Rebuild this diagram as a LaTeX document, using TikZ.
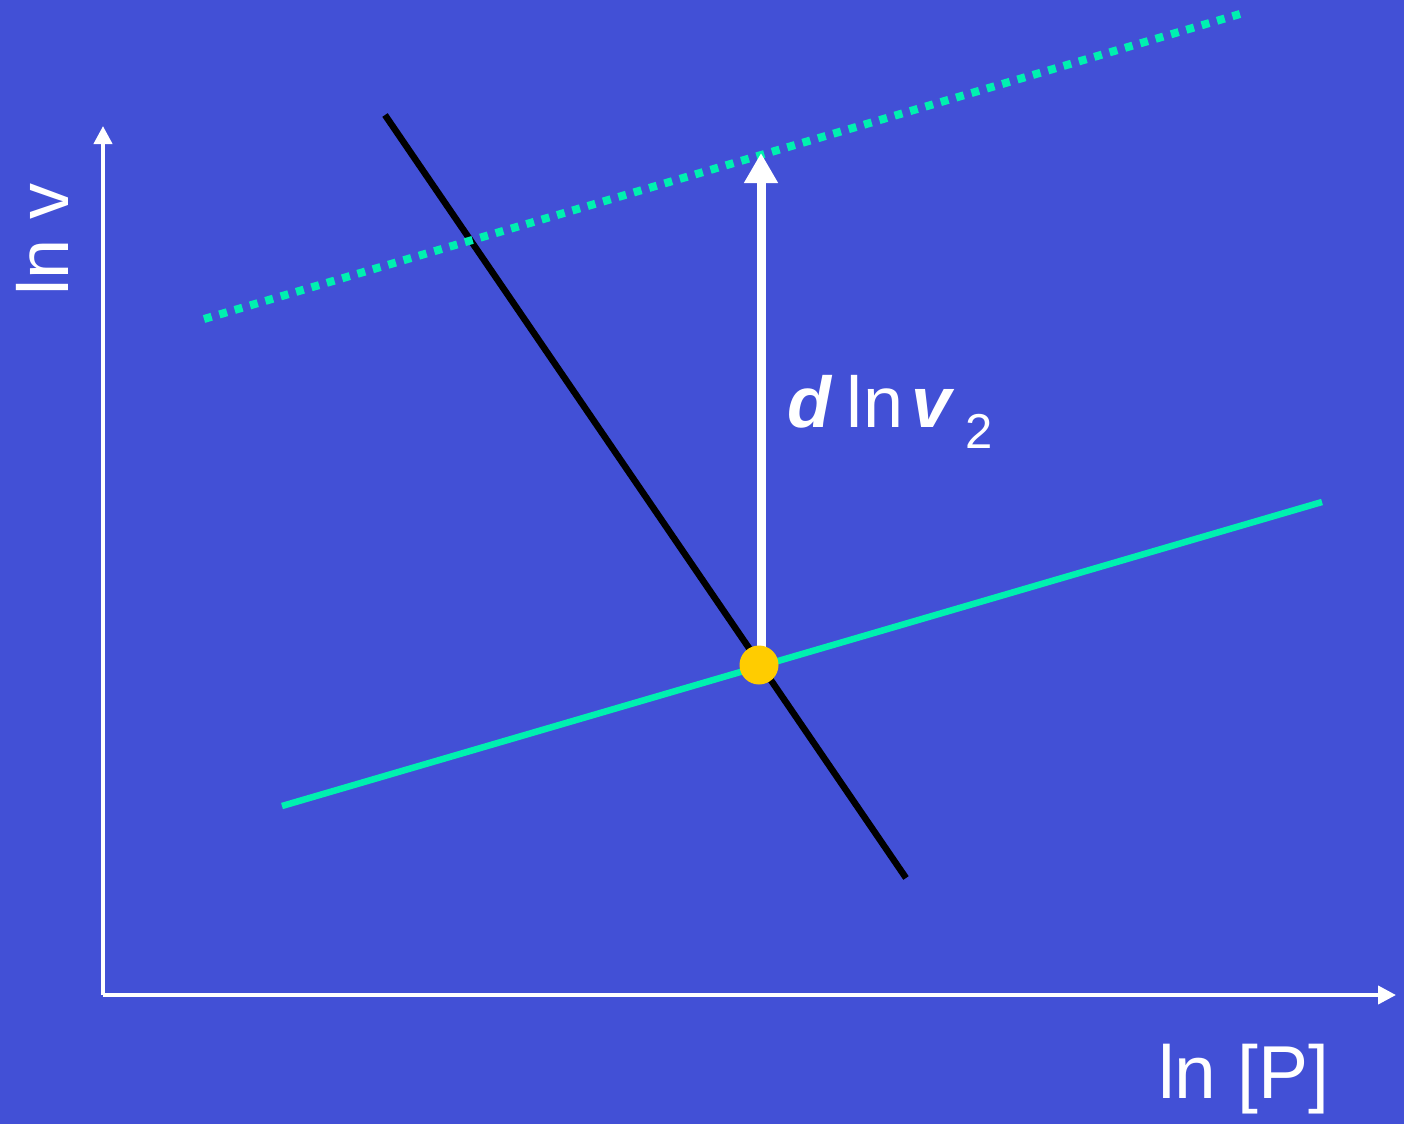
\documentclass[tikz,border=0pt]{standalone}
\usepackage{fontspec}
\setmainfont{Liberation Sans}
\usetikzlibrary{arrows.meta}
\definecolor{bg}{RGB}{66,80,214}
\definecolor{mint}{RGB}{0,240,176}
\definecolor{sun}{RGB}{255,204,0}
\tikzset{
  axis/.style={white, line width=4pt, -{Triangle[length=18pt,width=18pt]}},
  curve/.style={line width=6.5pt},
  lbl/.style={white, inner sep=0pt, font=\fontsize{72}{86}\selectfont},
}
\begin{document}
\begin{tikzpicture}[x=1pt,y=-1pt]
\fill[bg] (0,0) rectangle (1404,1124);
\useasboundingbox (0,0) rectangle (1404,1124);
% axes
\coordinate (O) at (103,995);
\coordinate (Ytip) at (103,126);
\coordinate (Xtip) at (1396,995);
\draw[axis] (O) -- (Ytip);
\draw[axis] (O) -- (Xtip);
% lines
\coordinate (b1) at (385,115);
\coordinate (b2) at (906,878);
\draw[curve, black] (b1) -- (b2);
\coordinate (g1) at (282,806);
\coordinate (g2) at (1322,502);
\draw[curve, mint] (g1) -- (g2);
\coordinate (d1) at (204,319);
\coordinate (d2) at (1240,14);
\draw[mint, line width=8pt, dash pattern=on 8pt off 8pt] (d1) -- (d2);
% white arrow
\coordinate (abase) at (761,650);
\coordinate (atip) at (761,153);
\draw[white, line width=9pt, -{Triangle[length=30pt,width=32pt]}] (abase) -- (atip);
\node[circle, fill=sun, minimum size=39pt, inner sep=0pt] (pt) at (759,665) {};
% labels
\node[lbl, anchor=base west] (dl) at (787,427) {\textbf{\textit{d}}\kern 14pt l\kern 1pt n\kern 8pt\textbf{\textit{v}}\kern 11pt\raisebox{-21pt}{\fontsize{49}{54}\selectfont 2}};
\node[lbl, rotate=90, anchor=base west] (lnv) at (68,296) {ln v};
\node[lbl, anchor=base west, font=\fontsize{75}{90}\selectfont] (lnp) at (1158,1098) {ln [P]};
\end{tikzpicture}
\end{document}
